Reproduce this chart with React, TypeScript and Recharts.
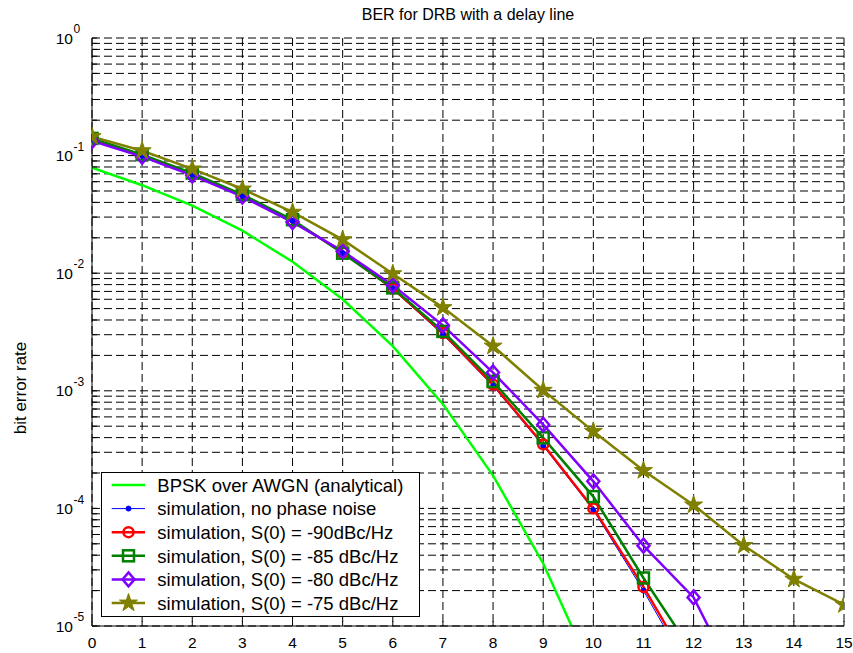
import React from "react";
import { CartesianGrid, Legend, Line, LineChart, XAxis, YAxis } from "recharts";

const FONT = "'Liberation Sans', Arial, Helvetica, sans-serif";

// Eb/N0 in dB
const snr = [0, 1, 2, 3, 4, 5, 6, 7, 8, 9, 10, 11, 12, 13, 14, 15];

// (points past the bottom edge only set the slope of the clipped segment)
const bpskAwgn = [0.079, 0.056, 0.0375, 0.023, 0.0125, 0.006, 0.0024, 0.00077, 0.00019, 0.000034, 0.0000039];
const noPhaseNoise = [0.136, 0.099, 0.068, 0.045, 0.0278, 0.0148, 0.0073, 0.003, 0.0011, 0.00034, 0.000097, 0.00002, 0.0000036];
const s90 = [0.137, 0.1, 0.069, 0.046, 0.028, 0.015, 0.0074, 0.0031, 0.00113, 0.00035, 0.0001, 0.0000215, 0.000004];
const s85 = [0.14, 0.102, 0.071, 0.0465, 0.0285, 0.0148, 0.0075, 0.0032, 0.0012, 0.000398, 0.000126, 0.0000256, 0.0000058];
const s80 = [0.133, 0.098, 0.068, 0.0448, 0.0272, 0.0154, 0.0079, 0.0036, 0.00143, 0.000515, 0.00017, 0.0000482, 0.0000175, 0.0000025];
const s75 = [0.145, 0.11, 0.077, 0.052, 0.033, 0.0193, 0.0099, 0.0051, 0.0024, 0.00101, 0.000452, 0.00021, 0.000107, 0.0000484, 0.000025, 0.0000152];

const decades = [1e-5, 1e-4, 1e-3, 1e-2, 1e-1, 1];
const minorMults = [1, 2, 3, 4, 5, 6, 7, 8, 9];
const yTicks = decades
  .slice(0, -1)
  .flatMap((d) => minorMults.map((m) => +(m * d).toPrecision(3)))
  .concat([1]);

const data = snr.map((x, i) => ({
  snr: x,
  bpsk: bpskAwgn[i] ?? null,
  none: noPhaseNoise[i] ?? null,
  s90: s90[i] ?? null,
  s85: s85[i] ?? null,
  s80: s80[i] ?? null,
  s75: s75[i] ?? null,
}));

type MarkerKind = "none" | "dot" | "circle" | "square" | "diamond" | "star";

const series: { key: string; name: string; color: string; width: number; marker: MarkerKind }[] = [
  { key: "bpsk", name: "BPSK over AWGN (analytical)", color: "#00ff00", width: 2.5, marker: "none" },
  { key: "none", name: "simulation, no phase noise", color: "#0000ff", width: 1, marker: "dot" },
  { key: "s90", name: "simulation, S(0) = -90dBc/Hz", color: "#ff0000", width: 2.5, marker: "circle" },
  { key: "s85", name: "simulation, S(0) = -85 dBc/Hz", color: "#008000", width: 2.5, marker: "square" },
  { key: "s80", name: "simulation, S(0) = -80 dBc/Hz", color: "#8000ff", width: 2.5, marker: "diamond" },
  { key: "s75", name: "simulation, S(0) = -75 dBc/Hz", color: "#808000", width: 2.5, marker: "star" },
];

function starPoints(cx: number, cy: number, R: number) {
  const r = R * 0.382;
  const pts: string[] = [];
  for (let i = 0; i < 10; i++) {
    const a = -Math.PI / 2 + (i * Math.PI) / 5;
    const rad = i % 2 === 0 ? R : r;
    pts.push(`${cx + rad * Math.cos(a)},${cy + rad * Math.sin(a)}`);
  }
  return pts.join(" ");
}

function Marker({ kind, cx, cy, color }: { kind: MarkerKind; cx: number; cy: number; color: string }) {
  switch (kind) {
    case "dot":
      return <circle cx={cx} cy={cy} r={2.5} fill={color} stroke={color} />;
    case "circle":
      return <circle cx={cx} cy={cy} r={5} fill="none" stroke={color} strokeWidth={2.5} />;
    case "square":
      return <rect x={cx - 5.5} y={cy - 5.5} width={11} height={11} fill="none" stroke={color} strokeWidth={2.5} />;
    case "diamond":
      return (
        <polygon
          points={`${cx},${cy - 7} ${cx + 6},${cy} ${cx},${cy + 7} ${cx - 6},${cy}`}
          fill="none"
          stroke={color}
          strokeWidth={2.5}
        />
      );
    case "star":
      return <polygon points={starPoints(cx, cy, 9.5)} fill={color} stroke={color} strokeWidth={1} />;
    default:
      return null;
  }
}

function LogTick(props: any) {
  const { y, payload } = props;
  const lg = Math.log10(payload.value);
  const e = Math.round(lg);
  if (Math.abs(lg - e) > 1e-6) return <g />;
  return (
    <g>
      <text x={73} y={y} dy={5.6} textAnchor="end" fontSize={15.5} fill="#000" fontFamily={FONT}>
        10
      </text>
      <text x={73.5} y={y} dy={-4.8} textAnchor="start" fontSize={12} fill="#000" fontFamily={FONT}>
        {e}
      </text>
    </g>
  );
}

function LegendBox() {
  return (
    <svg width={320} height={146} style={{ display: "block" }}>
      <rect x={0.5} y={0.5} width={318} height={144} fill="#fff" stroke="#000" strokeWidth={1} />
      {series.map((s, i) => {
        const cy = 13 + i * 23.6;
        return (
          <g key={s.key}>
            <line x1={10.7} x2={44} y1={cy} y2={cy} stroke={s.color} strokeWidth={s.width} />
            <Marker kind={s.marker} cx={27.5} cy={cy} color={s.color} />
            <text x={56.3} y={cy + 6.7} fontSize={18.5} fontFamily={FONT} fill="#000">
              {s.name}
            </text>
          </g>
        );
      })}
    </svg>
  );
}

export default function App() {
  return (
    <div style={{ position: "absolute", left: 0, top: 0, background: "#fff" }}>
      <LineChart width={853} height={653} data={data} margin={{ top: 38, right: 9, bottom: 0, left: 0 }}>
        <CartesianGrid stroke="#000" strokeDasharray="8 4" strokeWidth={1} />
        <XAxis
          dataKey="snr"
          type="number"
          domain={[0, 15]}
          ticks={snr}
          allowDataOverflow
          height={27}
          stroke="#000"
          tickSize={-5}
          tickMargin={16}
          tick={{ fontSize: 15.5, fill: "#000", fontFamily: FONT }}
        />
        <XAxis
          xAxisId="top"
          orientation="top"
          type="number"
          domain={[0, 15]}
          ticks={snr}
          allowDataOverflow
          height={0}
          stroke="#000"
          tickSize={-5}
          tick={false}
        />
        <YAxis
          scale="log"
          type="number"
          domain={[1e-5, 1]}
          ticks={yTicks}
          allowDataOverflow
          width={92}
          stroke="#000"
          tickSize={-5}
          tickMargin={10}
          tick={<LogTick />}
          interval={0}
        />
        <YAxis
          yAxisId="right"
          orientation="right"
          scale="log"
          type="number"
          domain={[1e-5, 1]}
          ticks={yTicks}
          allowDataOverflow
          width={0}
          stroke="#000"
          tickSize={-5}
          tick={false}
          interval={0}
        />
        {series.map((s) => (
          <Line
            key={s.key}
            dataKey={s.key}
            name={s.name}
            stroke={s.color}
            strokeWidth={s.width}
            type="linear"
            isAnimationActive={false}
            activeDot={false}
            dot={
              s.marker === "none"
                ? false
                : (p: any) =>
                    p.cx == null || p.cy == null || p.value == null ? (
                      <g key={`${s.key}-${p.index}`} />
                    ) : (
                      <Marker key={`${s.key}-${p.index}`} kind={s.marker} cx={p.cx} cy={p.cy} color={s.color} />
                    )
            }
          />
        ))}
        <Legend
          layout="vertical"
          align="center"
          verticalAlign="middle"
          content={() => <LegendBox />}
          wrapperStyle={{ position: "absolute", left: 101, top: 472, width: 320, height: 146 }}
        />
        <text x={468} y={20} textAnchor="middle" fontSize={16} fontFamily={FONT} fill="#000">
          BER for DRB with a delay line
        </text>
        <text
          x={26}
          y={388}
          transform="rotate(-90 26 388)"
          textAnchor="middle"
          fontSize={17}
          fontFamily={FONT}
          fill="#000"
        >
          bit error rate
        </text>
      </LineChart>
    </div>
  );
}
